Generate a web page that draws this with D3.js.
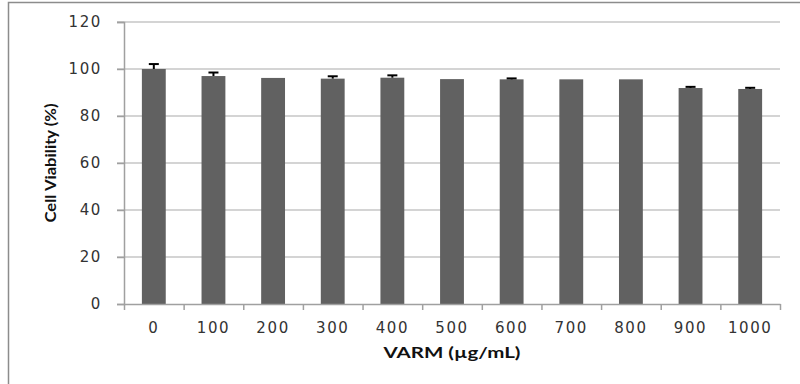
<!DOCTYPE html>
<html>
<head>
<meta charset="utf-8">
<script src="https://cdn.jsdelivr.net/npm/d3@7"></script>
<style>
  body { margin: 0; background: #fff; }
  svg { display: block; }
</style>
</head>
<body>
<div id="chart"></div>
<script>
(function() {
  // data
  var doses = ["0", "100", "200", "300", "400", "500", "600", "700", "800", "900", "1000"]
  var viability = [100, 97.0, 96.2, 95.9, 96.3, 95.7, 95.6, 95.6, 95.6, 91.9, 91.5]
  var errors = [2.1, 1.5, 0, 1.0, 1.0, 0, 0.4, 0, 0, 0.5, 0.5]
  var yTicks = [0, 20, 40, 60, 80, 100, 120]

  var margin = {top: 22, right: 20, bottom: 80, left: 124}
  var width = 800 - margin.left - margin.right,
      height = 384 - margin.top - margin.bottom

  var root = d3.select("#chart")
    .append("svg")
    .attr("width", 800)
    .attr("height", 384)

  // outer frame (right and bottom edges fall outside the picture)
  root.append("path")
    .attr("d", "M8.5,384 V2.5 H800")
    .attr("fill", "none")
    .attr("stroke", "#8c8c8c")
    .attr("stroke-width", 1.5)

  var svg = root.append("g")
    .attr("transform", "translate(" + margin.left + "," + margin.top + ")")

  var xPositionScale = d3.scaleBand()
    .domain(doses)
    .range([0, width])
    .paddingInner(0.6)
    .paddingOuter(0.3)

  var yPositionScale = d3.scaleLinear().domain([0, 120]).range([height, 0])

  // boundaries between categories for the x tick marks
  var edgeScale = d3.scaleLinear().domain([0, doses.length]).range([0, width])

  // gridlines with their little outside stubs
  svg.selectAll(".grid")
    .data(yTicks.slice(1))
    .enter().append("line")
    .attr("class", "grid")
    .attr("x1", -7)
    .attr("x2", width)
    .attr("y1", d => yPositionScale(d))
    .attr("y2", d => yPositionScale(d))
    .attr("stroke", "#c6c6c6")
    .attr("stroke-width", 1.5)

  // bars
  svg.selectAll(".bar")
    .data(viability)
    .enter().append("rect")
    .attr("class", "bar")
    .attr("x", (d, i) => xPositionScale(doses[i]))
    .attr("y", d => yPositionScale(d))
    .attr("width", xPositionScale.bandwidth())
    .attr("height", d => height - yPositionScale(d))
    .attr("fill", "#616161")

  // error bars (plus direction only)
  var errG = svg.selectAll(".err")
    .data(viability.map((v, i) => ({dose: doses[i], v: v, e: errors[i]})).filter(d => d.e > 0))
    .enter().append("g")
    .attr("class", "err")

  errG.append("line")
    .attr("x1", d => xPositionScale(d.dose) + xPositionScale.bandwidth() / 2)
    .attr("x2", d => xPositionScale(d.dose) + xPositionScale.bandwidth() / 2)
    .attr("y1", d => yPositionScale(d.v))
    .attr("y2", d => yPositionScale(d.v + d.e))
    .attr("stroke", "#000")
    .attr("stroke-width", 2)

  errG.append("line")
    .attr("x1", d => xPositionScale(d.dose) + xPositionScale.bandwidth() / 2 - 5)
    .attr("x2", d => xPositionScale(d.dose) + xPositionScale.bandwidth() / 2 + 5)
    .attr("y1", d => yPositionScale(d.v + d.e))
    .attr("y2", d => yPositionScale(d.v + d.e))
    .attr("stroke", "#000")
    .attr("stroke-width", 2)

  // y axis
  var yAxis = d3.axisLeft(yPositionScale)
    .tickValues(yTicks)
    .tickSize(7)
    .tickPadding(15)

  var yG = svg.append("g")
    .attr("class", "axis y-axis")
    .call(yAxis)
  yG.select(".domain").attr("stroke", "#a0a0a0").attr("stroke-width", 1.5)
  yG.selectAll(".tick line").attr("stroke", "#a0a0a0").attr("stroke-width", 1.5)
  yG.selectAll("text")
    .attr("font-family", "DejaVu Sans, Verdana, sans-serif")
    .attr("font-size", 15)
    .attr("letter-spacing", 1.6)
    .attr("fill", "#333")

  // x axis: tick marks at boundaries, labels under bars
  var xTicks = d3.axisBottom(edgeScale)
    .tickValues(d3.range(doses.length + 1))
    .tickFormat("")
    .tickSize(6)
    .tickSizeOuter(0)
  var xTickG = svg.append("g")
    .attr("class", "axis x-ticks")
    .attr("transform", "translate(0," + height + ")")
    .call(xTicks)
  xTickG.select(".domain").attr("stroke", "#a0a0a0").attr("stroke-width", 1.5)
  xTickG.selectAll(".tick line").attr("stroke", "#a0a0a0").attr("stroke-width", 1.5)

  var xAxis = d3.axisBottom(xPositionScale).tickSize(0).tickPadding(18)
  var xG = svg.append("g")
    .attr("class", "axis x-axis")
    .attr("transform", "translate(0," + height + ")")
    .call(xAxis)
  xG.select(".domain").remove()
  xG.selectAll("text")
    .attr("font-family", "DejaVu Sans, Verdana, sans-serif")
    .attr("font-size", 15)
    .attr("letter-spacing", 1.6)
    .attr("fill", "#333")

  // axis titles
  svg.append("text")
    .attr("x", width / 2)
    .attr("y", height + 54)
    .attr("text-anchor", "middle")
    .attr("font-family", "Lato, Open Sans, sans-serif")
    .attr("font-weight", "bold")
    .attr("font-size", 16)
    .attr("textLength", 137)
    .attr("lengthAdjust", "spacingAndGlyphs")
    .attr("fill", "#111")
    .text("VARM (µg/mL)")

  svg.append("text")
    .attr("transform", "translate(-68," + (height / 2) + ") rotate(-90)")
    .attr("text-anchor", "middle")
    .attr("font-family", "Lato, Open Sans, sans-serif")
    .attr("font-weight", "bold")
    .attr("font-size", 15)
    .attr("textLength", 119)
    .attr("lengthAdjust", "spacingAndGlyphs")
    .attr("fill", "#111")
    .text("Cell Viability (%)")
})()
</script>
</body>
</html>
